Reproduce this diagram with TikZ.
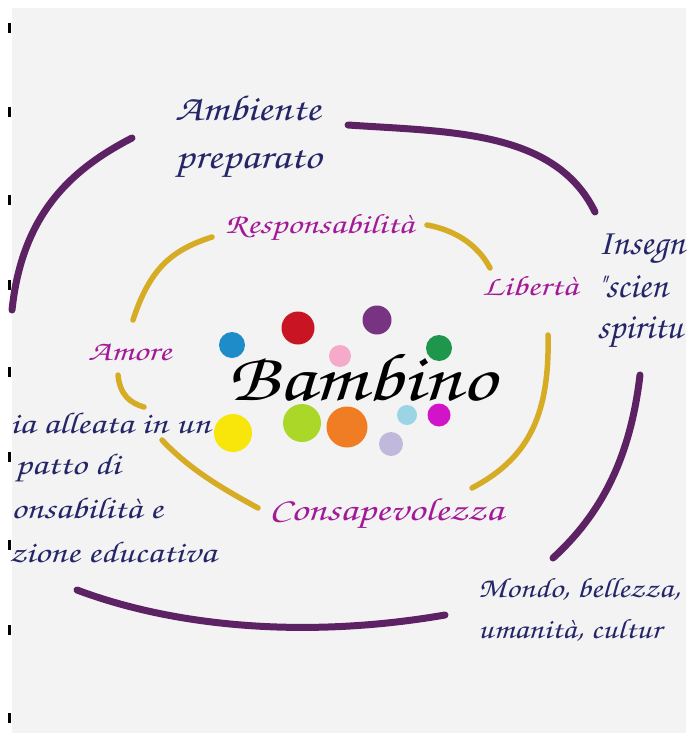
\documentclass[tikz,border=0pt]{standalone}
\usepackage[T1]{fontenc}
\usepackage{graphicx}
\newcommand{\hand}{\fontfamily{pzc}\fontseries{mb}\fontshape{it}\selectfont}
% wide handwriting: size, then horizontal stretch
\newcommand{\bigline}[1]{\scalebox{1.2}[1]{\hand\fontsize{36}{40}\selectfont #1}}
\newcommand{\edgeline}[1]{\scalebox{1.02}[1]{\hand\fontsize{36}{40}\selectfont #1}}
\newcommand{\sideline}[1]{\scalebox{1.25}[1]{\hand\fontsize{30}{34}\selectfont #1}}
\newcommand{\lowline}[1]{\scalebox{1.19}[1]{\hand\fontsize{28}{32}\selectfont #1}}
\newcommand{\valueline}[1]{\scalebox{1.3}[1]{\hand\fontsize{28}{32}\selectfont #1}}
\definecolor{navy}{RGB}{36,38,104}
\definecolor{magen}{RGB}{162,26,152}
\definecolor{plum}{RGB}{92,34,100}
\definecolor{gold}{RGB}{214,172,36}
\definecolor{paper}{RGB}{243,243,243}

\begin{document}
\begin{tikzpicture}[x=1pt, y=-1pt,
  outer/.style = {anchor = base west, inner sep = 0pt, color = navy},
  inner/.style = {anchor = base west, inner sep = 0pt, color = magen},
  ring/.style = {color = plum, line width = 7pt, line cap = round},
  band/.style = {color = gold, line width = 5.5pt, line cap = round},
  edgemark/.style = {line width = 3pt}]
\useasboundingbox (0,0) rectangle (686,733);
\fill[white] (0,0) rectangle (686,733);
\fill[paper] (12,8) rectangle (686,733);
\draw[edgemark] (9,23) -- (9,33) (9,107) -- (9,117) (9,195) -- (9,205)
  (9,280) -- (9,290) (9,367) -- (9,377) (9,452) -- (9,462)
  (9,540) -- (9,550) (9,625) -- (9,635) (9,713) -- (9,723);

% outer ring
\draw[ring] (132,138) .. controls (70,170) and (22,215) .. (12,310);
\draw[ring] (348,125) .. controls (450,132) and (555,130) .. (595,212);
\draw[ring] (640,375) .. controls (630,460) and (600,515) .. (553,558);
\draw[ring] (77,590) .. controls (170,625) and (300,640) .. (445,615);

% inner ring
\draw[band] (212,237) .. controls (172,250) and (150,268) .. (133,320);
\draw[band] (427,225) .. controls (455,230) and (478,245) .. (490,268);
\draw[band] (548,335) .. controls (550,420) and (525,460) .. (472,488);
\draw[band] (118,375) .. controls (120,395) and (130,403) .. (144,407);
\draw[band] (162,440) .. controls (190,470) and (225,490) .. (258,508);

% dots
\fill[color = {rgb,255:red,30;green,140;blue,200}] (232,345) circle (13);
\fill[color = {rgb,255:red,200;green,20;blue,35}] (298,328) circle (16.5);
\fill[color = {rgb,255:red,120;green,52;blue,130}] (377,320) circle (14.5);
\fill[color = {rgb,255:red,244;green,170;blue,200}] (340,356) circle (11);
\fill[color = {rgb,255:red,30;green,150;blue,75}] (439,348) circle (13);
\fill[color = {rgb,255:red,248;green,230;blue,10}] (233,433) circle (19);
\fill[color = {rgb,255:red,170;green,215;blue,40}] (302,423) circle (19);
\fill[color = {rgb,255:red,240;green,125;blue,35}] (347,427) circle (20.5);
\fill[color = {rgb,255:red,155;green,212;blue,228}] (407,415) circle (10);
\fill[color = {rgb,255:red,210;green,20;blue,200}] (439,415) circle (11.5);
\fill[color = {rgb,255:red,192;green,185;blue,220}] (391,444) circle (12);

\node (bambino) [anchor = base west, inner sep = 0pt] at (227,400)
  {\scalebox{1.25}[1]{\hand\fontsize{68}{76}\selectfont Bambino}};

\node (resp) [inner] at (225,233) {\valueline{Responsabilit\`a}};
\node (lib) [inner] at (482,295) {\valueline{Libert\`a}};
\node (amore) [inner] at (88,360) {\valueline{Amore}};
\node (consap) [inner] at (269,520)
  {\scalebox{1.3}[1]{\hand\fontsize{32}{36}\selectfont Consapevolezza}};

\node (amb1) [outer] at (175,121) {\bigline{Ambiente}};
\node (amb2) [outer] at (175,168) {\bigline{preparato}};
\node (ins1) [outer] at (598,254) {\edgeline{Insegn}};
\node (ins2) [outer] at (597,297) {\edgeline{"scien}};
\node (ins3) [outer] at (597,338) {\edgeline{spiritu}};
\node (fam1) [outer] at (10,433) {\sideline{ia alleata in un}};
\node (fam2) [outer] at (15,474) {\sideline{patto di}};
\node (fam3) [outer] at (11,518) {\sideline{onsabilit\`a e}};
\node (fam4) [outer] at (9,562) {\sideline{zione educativa}};
\node (mondo1) [outer] at (478,597) {\lowline{Mondo, bellezza,}};
\node (mondo2) [outer] at (478,638) {\lowline{umanit\`a, cultur}};
\end{tikzpicture}
\end{document}
